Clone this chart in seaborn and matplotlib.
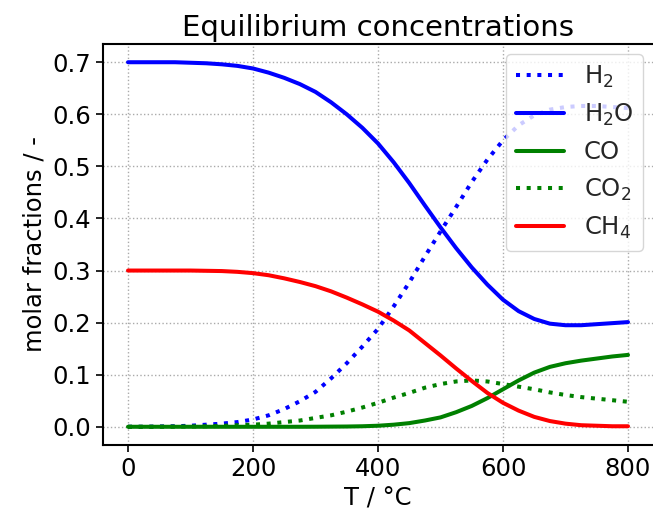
import matplotlib
matplotlib.use("Agg")
import matplotlib.pyplot as plt
import seaborn as sns

# Temperature grid in °C
T = [0, 25, 50, 75, 100, 125, 150, 175, 200, 225, 250, 275, 300, 325, 350, 375,
     400, 425, 450, 475, 500, 525, 550, 575, 600, 625, 650, 675, 700, 725, 750, 775, 800]

# Equilibrium molar fractions
x_H2 = [0.000, 0.000, 0.0005, 0.001, 0.002, 0.004, 0.006, 0.009, 0.014, 0.022, 0.034, 0.049,
        0.067, 0.093, 0.122, 0.154, 0.188, 0.231, 0.277, 0.327, 0.375, 0.422, 0.470, 0.513,
        0.550, 0.579, 0.598, 0.609, 0.614, 0.616, 0.616, 0.614, 0.612]
x_H2O = [0.700, 0.700, 0.700, 0.700, 0.699, 0.698, 0.696, 0.693, 0.688, 0.680, 0.670, 0.658,
         0.643, 0.623, 0.600, 0.574, 0.544, 0.508, 0.468, 0.425, 0.383, 0.343, 0.306, 0.273,
         0.244, 0.222, 0.207, 0.198, 0.195, 0.195, 0.197, 0.199, 0.201]
x_CO = [0.0, 0.0, 0.0, 0.0, 0.0, 0.0, 0.0, 0.0, 0.0, 0.0, 0.0, 0.0,
        0.0001, 0.0003, 0.0005, 0.001, 0.002, 0.004, 0.007, 0.012, 0.018, 0.028, 0.040, 0.055,
        0.072, 0.089, 0.104, 0.115, 0.122, 0.127, 0.131, 0.135, 0.138]
x_CO2 = [0.0, 0.0, 0.0001, 0.0003, 0.0006, 0.001, 0.0017, 0.003, 0.004, 0.006, 0.009, 0.012,
         0.017, 0.022, 0.029, 0.037, 0.046, 0.056, 0.065, 0.075, 0.082, 0.087, 0.089, 0.087,
         0.082, 0.077, 0.072, 0.066, 0.061, 0.057, 0.054, 0.051, 0.048]
x_CH4 = [0.300, 0.300, 0.300, 0.300, 0.300, 0.2995, 0.299, 0.2975, 0.295, 0.291, 0.285, 0.278,
         0.270, 0.260, 0.248, 0.235, 0.221, 0.204, 0.185, 0.161, 0.137, 0.112, 0.088, 0.065,
         0.046, 0.031, 0.019, 0.011, 0.006, 0.003, 0.002, 0.001, 0.001]

labels = [r"H$_2$", r"H$_2$O", "CO", r"CO$_2$", r"CH$_4$"]
colors = ["#0000ff", "#0000ff", "#008000", "#008000", "#ff0000"]
styles = [":", "-", "-", ":", "-"]

sns.set_theme(style="ticks")
plt.rcParams["font.family"] = ["DejaVu Sans"]
plt.rcParams["mathtext.fontset"] = "dejavusans"
base = 17.5

fig = plt.figure(figsize=(6.53, 5.22), dpi=100)
ax = fig.add_axes([103 / 653, 1 - 445 / 522, 1 - 103 / 653, (445 - 44) / 522])

for vals, lab, col, ls in zip([x_H2, x_H2O, x_CO, x_CO2, x_CH4], labels, colors, styles):
    sns.lineplot(x=T, y=vals, ax=ax, color=col, linestyle=ls, linewidth=2.9, label=lab)

ax.set_xlim(-40, 840)
ax.set_ylim(-0.035, 0.735)
ax.set_xticks([0, 200, 400, 600, 800])
ax.set_yticks([0.0, 0.1, 0.2, 0.3, 0.4, 0.5, 0.6, 0.7])
ax.set_yticklabels([f"{v:.1f}" for v in [0.0, 0.1, 0.2, 0.3, 0.4, 0.5, 0.6, 0.7]])
ax.grid(True, linestyle=":", color="#aaaaaa", linewidth=1.0)
ax.set_axisbelow(True)

for side in ["left", "bottom", "top"]:
    ax.spines[side].set_visible(True)
    ax.spines[side].set_linewidth(1.5)
    ax.spines[side].set_color("black")
ax.spines["right"].set_visible(False)
ax.tick_params(axis="both", which="major", direction="out", length=5, width=1.2,
               labelsize=base, color="black", labelcolor="black", top=False, right=False)

ax.set_xlabel("T / °C", fontsize=base, color="black")
ax.set_ylabel("molar fractions / -", fontsize=base, color="black")
ax.set_title("Equilibrium concentrations", fontsize=base * 1.2, color="black")

leg = ax.legend(loc="upper right", fontsize=base, frameon=True, fancybox=True,
                framealpha=0.8, edgecolor="#cccccc", borderaxespad=0.4)

fig.savefig("out.png", dpi=100)
